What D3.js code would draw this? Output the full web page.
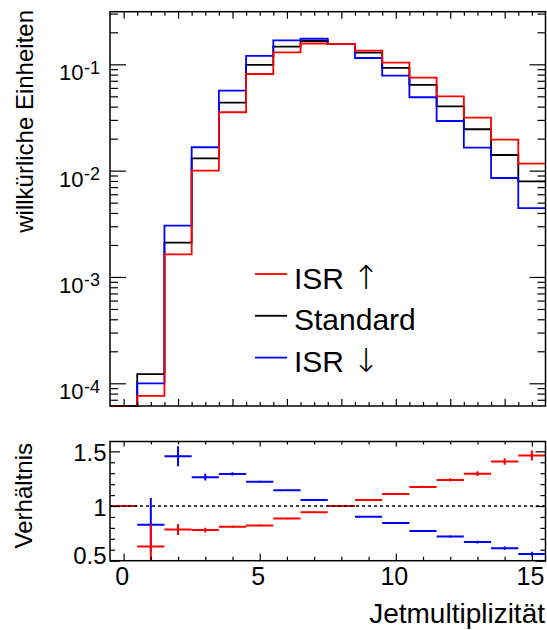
<!DOCTYPE html>
<html>
<head>
<meta charset="utf-8">
<script src="https://cdn.jsdelivr.net/npm/d3@7"></script>
<style>
  html, body { margin: 0; padding: 0; background: #fff; }
  svg { display: block; font-family: "Liberation Sans", Arial, Helvetica, sans-serif; }
</style>
</head>
<body>
<svg id="chart" width="547" height="630"></svg>
<script>
// Jet multiplicity, bins 0..15
const bins = d3.range(16);

// Normalised distributions (arbitrary units)
const standard = [6.1e-5, 1.22e-4, 2.10e-3, 1.306e-2, 4.37e-2, 0.0986, 0.1466, 0.1656,
                  0.156, 0.1288, 0.0924, 0.0640, 0.0403, 0.0245, 0.01403, 0.00794];
const isrUp    = [6.1e-5, 7.6e-5, 1.63e-3, 1.00e-2, 3.54e-2, 0.0811, 0.1297, 0.1570,
                  0.156, 0.1345, 0.1038, 0.0750, 0.0500, 0.0315, 0.01958, 0.01164];
const isrDown  = [6.1e-5, 1.00e-4, 3.04e-3, 1.66e-2, 5.65e-2, 0.1198, 0.1680, 0.1740,
                  0.156, 0.1147, 0.0782, 0.0490, 0.0293, 0.01645, 0.00853, 0.00445];

// Ratios to the standard sample with their uncertainties
const ratioUp      = [1, 0.630, 0.785, 0.780, 0.810, 0.823, 0.885, 0.943,
                      1, 1.055, 1.111, 1.175, 1.239, 1.296, 1.407, 1.462];
const ratioUpErr   = [0, 0.200, 0.050, 0.022, 0.012, 0.008, 0.006, 0.005,
                      0.004, 0.006, 0.007, 0.010, 0.015, 0.022, 0.030, 0.045];
const ratioDown    = [1, 0.828, 1.455, 1.264, 1.293, 1.222, 1.145, 1.055,
                      1, 0.903, 0.845, 0.771, 0.721, 0.670, 0.614, 0.561];
const ratioDownErr = [0, 0.245, 0.092, 0.030, 0.015, 0.008, 0.005, 0.005,
                      0.004, 0.005, 0.006, 0.008, 0.010, 0.012, 0.015, 0.020];

// Axis ticks and labels
const topYMajor = [1e-4, 1e-3, 1e-2, 1e-1];
const topYLabels = [["10", "-4"], ["10", "-3"], ["10", "-2"], ["10", "-1"]];
const ratioTicks = [0.5, 1, 1.5];
const ratioTickLabels = ["0.5", "1", "1.5"];
const xTickLabels = ["0", "5", "10", "15"];

const legendEntries = [
  { name: "ISR ", arrow: "\u2191", color: "#ff0000" },
  { name: "Standard", arrow: "", color: "#000000" },
  { name: "ISR ", arrow: "\u2193", color: "#0000ff" }
];

const svg = d3.select("#chart");

// Frames
const L = 110, R = 545.5;
const topT = 11.7, topB = 406;
const botT = 441.5, botB = 560.7;

const x = d3.scaleLinear().domain([-0.5, 15.5]).range([L, R]);
const y = d3.scaleLog().domain([6.115e-5, 0.3125]).range([topB, topT]);
const yr = d3.scaleLinear().domain([0.5, 1.59]).range([botB, botT]);

svg.append("defs").append("clipPath").attr("id", "clipTop")
  .append("rect").attr("x", L).attr("y", topT - 2).attr("width", R - L).attr("height", topB - topT + 3);
svg.select("defs").append("clipPath").attr("id", "clipBot")
  .append("rect").attr("x", L).attr("y", botT).attr("width", R - L).attr("height", botB - botT);

// ---------- top panel: histograms ----------
const stepLine = d3.line()
  .x(d => x(d[0]))
  .y(d => y(d[1]))
  .curve(d3.curveStepAfter);

function histPoints(vals) {
  const pts = bins.map(i => [i - 0.5, vals[i]]);
  pts.push([15.5, vals[15]]);
  return pts;
}

const gTop = svg.append("g").attr("clip-path", "url(#clipTop)");
[[standard, "#000000"], [isrDown, "#0000ff"], [isrUp, "#ff0000"]].forEach(([vals, col]) => {
  gTop.append("path")
    .attr("d", stepLine(histPoints(vals)))
    .attr("fill", "none")
    .attr("stroke", col)
    .attr("stroke-width", 1.8);
});

// ticks helper: draw inward ticks with d3 axes
function ticksOn(g, axisFn, scale, values, size) {
  g.call(axisFn(scale).tickValues(values).tickSizeInner(-size).tickSizeOuter(0).tickFormat(""))
    .call(s => s.select(".domain").remove())
    .call(s => s.selectAll("line").attr("stroke", "#000").attr("stroke-width", 1.2));
}

// top panel x ticks
const topXMajor = d3.range(0, 15, 2);
const topXMinor = d3.range(-0.5, 15.51, 0.5).filter(v => !topXMajor.includes(v) && v > -0.5 && v < 15.5);
ticksOn(svg.append("g").attr("transform", `translate(0,${topB})`), d3.axisBottom, x, topXMajor, 7);
ticksOn(svg.append("g").attr("transform", `translate(0,${topB})`), d3.axisBottom, x, topXMinor, 4);
ticksOn(svg.append("g").attr("transform", `translate(0,${topT})`), d3.axisTop, x, topXMajor, 7);
ticksOn(svg.append("g").attr("transform", `translate(0,${topT})`), d3.axisTop, x, topXMinor, 4);

// top panel y ticks (log)
const topYMinor = [];
for (let e = -5; e <= -1; e++) for (let m = 2; m <= 9; m++) {
  const v = m * Math.pow(10, e);
  if (v > y.domain()[0] && v < y.domain()[1]) topYMinor.push(v);
}
ticksOn(svg.append("g").attr("transform", `translate(${L},0)`), d3.axisLeft, y, topYMajor, 16);
ticksOn(svg.append("g").attr("transform", `translate(${L},0)`), d3.axisLeft, y, topYMinor, 8);
ticksOn(svg.append("g").attr("transform", `translate(${R},0)`), d3.axisRight, y, topYMajor, 16);
ticksOn(svg.append("g").attr("transform", `translate(${R},0)`), d3.axisRight, y, topYMinor, 8);

// top panel frame
svg.append("rect").attr("x", L).attr("y", topT).attr("width", R - L).attr("height", topB - topT)
  .attr("fill", "none").attr("stroke", "#000").attr("stroke-width", 1.5);

// top y tick labels 10^n
topYMajor.forEach((v, i) => {
  const ty = y(v);
  svg.append("text").attr("x", 83.5).attr("y", ty + 16).attr("text-anchor", "end")
    .attr("font-size", 22).text(topYLabels[i][0]);
  svg.append("text").attr("x", 84).attr("y", ty + 9.5).attr("text-anchor", "start")
    .attr("font-size", 18).text(topYLabels[i][1]);
});

// y title
svg.append("text")
  .attr("transform", `translate(33,10) rotate(-90)`)
  .attr("text-anchor", "end")
  .attr("font-size", 24)
  .text("willk\u00fcrliche Einheiten");

// legend
legendEntries.forEach((d, i) => {
  const ly = 274 + i * 41.8;
  svg.append("line").attr("x1", 255).attr("x2", 287).attr("y1", ly).attr("y2", ly)
    .attr("stroke", d.color).attr("stroke-width", 1.8);
  const t = svg.append("text").attr("x", 294).attr("y", ly + 14.5).attr("font-size", 30);
  t.append("tspan").text(d.name);
  if (d.arrow) {
    t.append("tspan").attr("font-family", "DejaVu Sans").attr("font-weight", 200)
      .attr("font-size", 33).text(d.arrow);
  }
});

// ---------- bottom panel: ratios ----------
const gBot = svg.append("g").attr("clip-path", "url(#clipBot)");
function drawRatio(vals, errs, col) {
  const g = gBot.append("g");
  bins.forEach(i => {
    g.append("line").attr("x1", x(i - 0.5)).attr("x2", x(i + 0.5))
      .attr("y1", yr(vals[i])).attr("y2", yr(vals[i]))
      .attr("stroke", col).attr("stroke-width", 2);
    if (errs[i] > 0) {
      g.append("line").attr("x1", x(i)).attr("x2", x(i))
        .attr("y1", yr(vals[i] - errs[i])).attr("y2", yr(vals[i] + errs[i]))
        .attr("stroke", col).attr("stroke-width", 2);
    }
  });
}
drawRatio(ratioDown, ratioDownErr, "#0000ff");
drawRatio(ratioUp, ratioUpErr, "#ff0000");

// reference line at 1
svg.append("line").attr("x1", L).attr("x2", R).attr("y1", yr(1)).attr("y2", yr(1))
  .attr("stroke", "#000").attr("stroke-width", 1.5).attr("stroke-dasharray", "3,3");

// bottom panel ticks
const botXMajor = [0, 5, 10, 15];
const botXMinor = d3.range(0, 16).filter(v => !botXMajor.includes(v));
ticksOn(svg.append("g").attr("transform", `translate(0,${botB})`), d3.axisBottom, x, botXMajor, 7);
ticksOn(svg.append("g").attr("transform", `translate(0,${botB})`), d3.axisBottom, x, botXMinor, 4);
ticksOn(svg.append("g").attr("transform", `translate(0,${botT})`), d3.axisTop, x, botXMajor, 5);
ticksOn(svg.append("g").attr("transform", `translate(0,${botT})`), d3.axisTop, x, botXMinor, 3);

const ratioMinor = d3.range(0.6, 1.59, 0.1).map(v => +v.toFixed(2)).filter(v => !ratioTicks.includes(v));
ticksOn(svg.append("g").attr("transform", `translate(${L},0)`), d3.axisLeft, yr, ratioTicks, 10);
ticksOn(svg.append("g").attr("transform", `translate(${L},0)`), d3.axisLeft, yr, ratioMinor, 5);
ticksOn(svg.append("g").attr("transform", `translate(${R},0)`), d3.axisRight, yr, ratioTicks, 10);
ticksOn(svg.append("g").attr("transform", `translate(${R},0)`), d3.axisRight, yr, ratioMinor, 5);

svg.append("rect").attr("x", L).attr("y", botT).attr("width", R - L).attr("height", botB - botT)
  .attr("fill", "none").attr("stroke", "#000").attr("stroke-width", 1.5);

// ratio tick labels
ratioTicks.forEach((v, i) => {
  const off = v === 0.5 ? -5 : 1.5;
  svg.append("text").attr("x", 106.5).attr("y", yr(v) + off + 8.5)
    .attr("text-anchor", "end").attr("font-size", 24).text(ratioTickLabels[i]);
});

// x tick labels
botXMajor.forEach((v, i) => {
  svg.append("text").attr("x", x(v) - 1.5).attr("y", 585)
    .attr("text-anchor", "middle").attr("font-size", 25).text(xTickLabels[i]);
});

// ratio title
svg.append("text")
  .attr("transform", `translate(31.5,443) rotate(-90)`)
  .attr("text-anchor", "end")
  .attr("font-size", 24)
  .text("Verh\u00e4ltnis");

// x title
svg.append("text").attr("x", 545).attr("y", 623).attr("text-anchor", "end")
  .attr("font-size", 28).text("Jetmultiplizit\u00e4t");
</script>
</body>
</html>
